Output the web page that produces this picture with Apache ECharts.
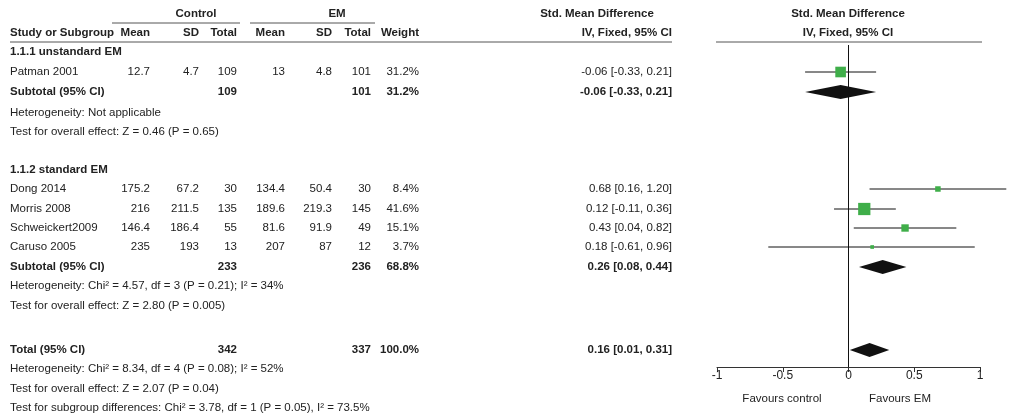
<!DOCTYPE html>
<html>
<head>
<meta charset="utf-8">
<script src="https://cdn.jsdelivr.net/npm/echarts@6/dist/echarts.min.js"></script>
<style>html,body{margin:0;padding:0;background:#fff}#main{width:1030px;height:418px}</style>
</head>
<body>
<div id="main"></div>
<script>
// study rows
var studies = ['Patman 2001', 'Dong 2014', 'Morris 2008', 'Schweickert2009', 'Caruso 2005'];
var ctrlMean = [12.7, 175.2, 216, 146.4, 235];
var ctrlSD = [4.7, 67.2, 211.5, 186.4, 193];
var ctrlN = [109, 30, 135, 55, 13];
var emMean = [13, 134.4, 189.6, 81.6, 207];
var emSD = [4.8, 50.4, 219.3, 91.9, 87];
var emN = [101, 30, 145, 49, 12];
var weight = [31.2, 8.4, 41.6, 15.1, 3.7];
var smd = [-0.06, 0.68, 0.12, 0.43, 0.18];
var lo = [-0.33, 0.16, -0.11, 0.04, -0.61];
var hi = [0.21, 1.20, 0.36, 0.82, 0.96];
var studyRow = [72, 189, 209, 228, 247];

// pooled rows
var poolLabel = ['Subtotal (95% CI)', 'Subtotal (95% CI)', 'Total (95% CI)'];
var poolCtrlN = [109, 233, 342];
var poolEmN = [101, 236, 337];
var poolWeight = [31.2, 68.8, 100.0];
var poolSmd = [-0.06, 0.26, 0.16];
var poolLo = [-0.33, 0.08, 0.01];
var poolHi = [0.21, 0.44, 0.31];
var poolRow = [92, 267, 350];

var noteLines = [
  ['1.1.1 unstandard EM', 52, true],
  ['Heterogeneity: Not applicable', 113, false],
  ['Test for overall effect: Z = 0.46 (P = 0.65)', 132, false],
  ['1.1.2 standard EM', 170, true],
  ['Heterogeneity: Chi\u00b2 = 4.57, df = 3 (P = 0.21); I\u00b2 = 34%', 286, false],
  ['Test for overall effect: Z = 2.80 (P = 0.005)', 306, false],
  ['Heterogeneity: Chi\u00b2 = 8.34, df = 4 (P = 0.08); I\u00b2 = 52%', 369, false],
  ['Test for overall effect: Z = 2.07 (P = 0.04)', 389, false],
  ['Test for subgroup differences: Chi\u00b2 = 3.78, df = 1 (P = 0.05), I\u00b2 = 73.5%', 408, false]
];
var xTicks = [-1, -0.5, 0, 0.5, 1];

var font = '"Liberation Sans", Arial, sans-serif';
var ink = '#222';
var g = [];
function txt(s, x, y, align, bold) {
  g.push({ type: 'text', x: x, y: y, style: { text: s, fill: ink, font: (bold ? 'bold ' : '') + '11.5px ' + font, textAlign: align || 'left', textVerticalAlign: 'middle' } });
}
function hline(x1, x2, y) {
  g.push({ type: 'line', shape: { x1: x1, y1: y, x2: x2, y2: y }, style: { stroke: '#555', lineWidth: 1 } });
}
function ci(a, b, c) { return a.toFixed(2) + ' [' + b.toFixed(2) + ', ' + c.toFixed(2) + ']'; }

// headers
txt('Control', 196, 14, 'center', true);
txt('EM', 337, 14, 'center', true);
txt('Std. Mean Difference', 597, 14, 'center', true);
txt('Std. Mean Difference', 848, 14, 'center', true);
hline(112, 240, 23); hline(250, 375, 23);
var hdr = [['Study or Subgroup', 10, 'left'], ['Mean', 150, 'right'], ['SD', 199, 'right'], ['Total', 237, 'right'],
  ['Mean', 285, 'right'], ['SD', 332, 'right'], ['Total', 371, 'right'], ['Weight', 419, 'right'], ['IV, Fixed, 95% CI', 672, 'right']];
hdr.forEach(function (h) { txt(h[0], h[1], 33, h[2], true); });
txt('IV, Fixed, 95% CI', 848, 33, 'center', true);
hline(10, 672, 42); hline(716, 982, 42);

studies.forEach(function (s, i) {
  var y = studyRow[i];
  txt(s, 10, y);
  txt(String(ctrlMean[i]), 150, y, 'right');
  txt(String(ctrlSD[i]), 199, y, 'right');
  txt(String(ctrlN[i]), 237, y, 'right');
  txt(String(emMean[i]), 285, y, 'right');
  txt(String(emSD[i]), 332, y, 'right');
  txt(String(emN[i]), 371, y, 'right');
  txt(weight[i].toFixed(1) + '%', 419, y, 'right');
  txt(ci(smd[i], lo[i], hi[i]), 672, y, 'right');
});
poolLabel.forEach(function (s, i) {
  var y = poolRow[i];
  txt(s, 10, y, 'left', true);
  txt(String(poolCtrlN[i]), 237, y, 'right', true);
  txt(String(poolEmN[i]), 371, y, 'right', true);
  txt(poolWeight[i].toFixed(1) + '%', 419, y, 'right', true);
  txt(ci(poolSmd[i], poolLo[i], poolHi[i]), 672, y, 'right', true);
});
noteLines.forEach(function (n) { txt(n[0], 10, n[1], 'left', n[2]); });
txt('Favours control', 782, 399, 'center');
txt('Favours EM', 900, 399, 'center');

var chart = echarts.init(document.getElementById('main'));
chart.setOption({
  animation: false,
  graphic: g,
  grid: { left: 717, right: 50, top: 45, bottom: 51 },
  xAxis: {
    type: 'value', min: -1, max: 1, interval: 0.5,
    axisLine: { show: true, lineStyle: { color: '#333' } },
    axisTick: { show: true, length: 5, lineStyle: { color: '#333' } },
    axisLabel: { color: ink, fontFamily: font, fontSize: 12, margin: 3, formatter: function (v) { return xTicks.indexOf(v) >= 0 ? String(v) : ''; } },
    splitLine: { show: false }
  },
  yAxis: { type: 'value', min: 45, max: 367, inverse: true, show: false },
  series: [
    {
      type: 'custom', clip: false,
      data: studies.map(function (s, i) { return [smd[i], lo[i], hi[i], studyRow[i], weight[i]]; }),
      renderItem: function (params, api) {
        var c = api.coord([api.value(0), api.value(3)]);
        var l = api.coord([api.value(1), api.value(3)]);
        var h = api.coord([api.value(2), api.value(3)]);
        var sz = Math.max(3, Math.sqrt(api.value(4)) * 1.9);
        return { type: 'group', children: [
          { type: 'line', shape: { x1: l[0], y1: l[1], x2: h[0], y2: h[1] }, style: { stroke: '#111', lineWidth: 1 } },
          { type: 'rect', shape: { x: c[0] - sz / 2, y: c[1] - sz / 2, width: sz, height: sz }, style: { fill: '#3fae49' } }
        ] };
      },
      markLine: { symbol: 'none', silent: true, label: { show: false }, lineStyle: { color: '#111', type: 'solid', width: 1 }, data: [{ xAxis: 0 }] }
    },
    {
      type: 'custom', clip: false,
      data: poolLabel.map(function (s, i) { return [poolSmd[i], poolLo[i], poolHi[i], poolRow[i]]; }),
      renderItem: function (params, api) {
        var c = api.coord([api.value(0), api.value(3)]);
        var l = api.coord([api.value(1), api.value(3)]);
        var h = api.coord([api.value(2), api.value(3)]);
        return { type: 'polygon', shape: { points: [[l[0], c[1]], [c[0], c[1] - 7], [h[0], c[1]], [c[0], c[1] + 7]] }, style: { fill: '#111' } };
      }
    }
  ]
});
</script>
</body>
</html>
